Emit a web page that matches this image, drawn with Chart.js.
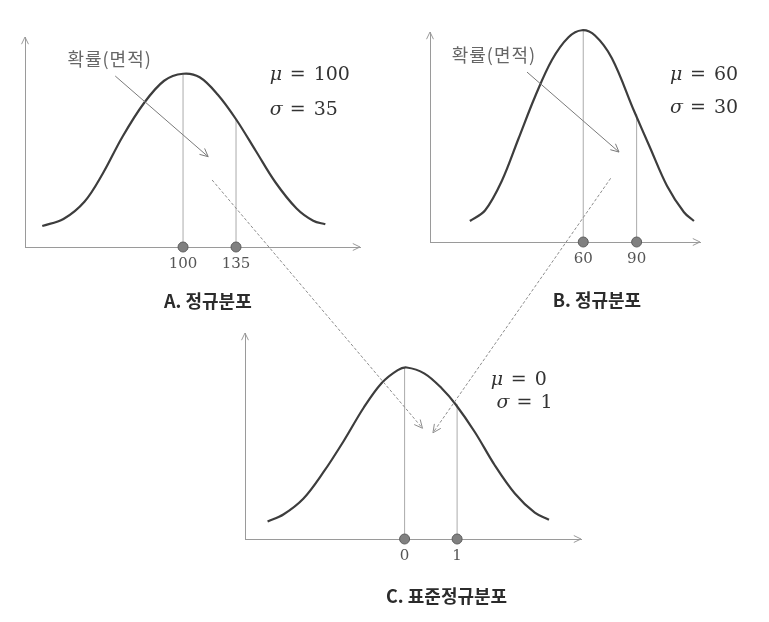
<!DOCTYPE html>
<html>
<head>
<meta charset="utf-8">
<script src="https://cdn.jsdelivr.net/npm/chart.js@4.4.0/dist/chart.umd.min.js"></script>
<style>
  html, body { margin: 0; background: #fff; }
  #wrap { position: relative; width: 769px; height: 622px; }
  #wrap canvas { position: absolute; left: 0; top: 0; }
</style>
</head>
<body>
<div id="wrap">
  <canvas id="chartA" width="769" height="622"></canvas>
  <canvas id="chartB" width="769" height="622"></canvas>
  <canvas id="chartC" width="769" height="622"></canvas>
</div>
<script>
// A. 정규분포 (mu 100, sigma 35) - curve
const aCurveX = [7, 21, 35, 47, 60, 74, 87.5, 100, 111, 123, 135, 148, 161, 175, 186, 194];
const aCurveY = [12, 16, 26, 42, 63, 82, 95, 99, 97, 87, 73, 55, 37, 22, 15, 13];
const aTicks = [100, 135];
const aTickH = [99, 73];

// B. 정규분포 (mu 60, sigma 30)
const bCurveX = [-3.7, 4.8, 14.3, 23.6, 32.9, 42.4, 51.7, 59.3, 66.6, 76.1, 88.5, 97.5, 107.1, 116.6, 122.2];
const bCurveY = [12, 18, 35, 59, 83, 104, 117, 121, 118, 105, 75, 54, 32, 17, 12];
const bTicks = [60, 90];
const bTickH = [121, 73];

// C. 표준정규분포 (mu 0, sigma 1)
const cCurveX = [-2.61, -2.31, -1.93, -1.55, -1.16, -0.78, -0.44, -0.13, 0.04, 0.38, 0.71, 0.97, 1.34, 1.72, 2.1, 2.48, 2.75];
const cCurveY = [10, 14, 23, 38, 56, 75, 89, 96.5, 98, 94.5, 86, 77, 61, 42, 26, 15, 11];
const cTicks = [0, 1];
const cTickH = [98, 77];

const W = 769, H = 622;
const AXIS = '#9a9a9a';
const LABEL_BAND = 30;

function chevron(ctx, x, y, ang, size) {
  ctx.beginPath();
  ctx.moveTo(x - size * Math.cos(ang - 0.45), y - size * Math.sin(ang - 0.45));
  ctx.lineTo(x, y);
  ctx.lineTo(x - size * Math.cos(ang + 0.45), y - size * Math.sin(ang + 0.45));
  ctx.stroke();
}

function arrow(ctx, x1, y1, x2, y2, dashed) {
  ctx.save();
  ctx.strokeStyle = dashed ? '#8c8c8c' : '#7a7a7a';
  ctx.lineWidth = 1;
  if (dashed) ctx.setLineDash([3, 2]);
  ctx.beginPath();
  ctx.moveTo(x1, y1);
  ctx.lineTo(x2, y2);
  ctx.stroke();
  ctx.setLineDash([]);
  chevron(ctx, x2, y2, Math.atan2(y2 - y1, x2 - x1), 9);
  ctx.restore();
}

const notesPlugin = {
  id: 'notes',
  afterDraw(chart, args, opts) {
    const ctx = chart.ctx;
    const sx = chart.scales.x, sy = chart.scales.y;
    const {left, top, right, bottom} = chart.chartArea;
    ctx.save();
    ctx.strokeStyle = AXIS;
    ctx.lineWidth = 1;
    chevron(ctx, right, bottom, 0, 8);
    chevron(ctx, left, top, -Math.PI / 2, 8);

    (opts.pointers || []).forEach(p => {
      arrow(ctx, sx.getPixelForValue(p.from[0]), sy.getPixelForValue(p.from[1]),
        sx.getPixelForValue(p.to[0]), sy.getPixelForValue(p.to[1]), false);
    });
    (opts.links || []).forEach(l => {
      const src = l.src();
      arrow(ctx, src.scales.x.getPixelForValue(l.from[0]), src.scales.y.getPixelForValue(l.from[1]),
        sx.getPixelForValue(l.to[0]), sy.getPixelForValue(l.to[1]), true);
    });

    ctx.textBaseline = 'middle';
    (opts.texts || []).forEach(t => {
      const x = sx.getPixelForValue(t.at[0]);
      const y = sy.getPixelForValue(t.at[1]);
      if (t.math) {
        // greek symbol in italic, then "=" and the value
        ctx.fillStyle = '#333';
        ctx.textAlign = 'left';
        ctx.font = 'italic 19px "DejaVu Serif"';
        ctx.fillText(t.math[0], x, y);
        ctx.font = '19px "DejaVu Serif"';
        ctx.fillText('=', x + 20, y);
        ctx.fillText(t.math[1], x + 44, y);
      } else {
        ctx.fillStyle = t.color || '#555';
        ctx.textAlign = 'center';
        ctx.font = t.font;
        ctx.letterSpacing = t.spacing || '0px';
        ctx.fillText(t.text, x, y);
        ctx.letterSpacing = '0px';
      }
    });
    ctx.restore();
  }
};

function buildChart(id, d) {
  const datasets = [
    {
      data: d.cx.map((x, i) => ({x, y: d.cy[i]})),
      showLine: true, borderColor: '#3d3d3d', borderWidth: 2.2,
      pointRadius: 0, tension: 0.35, clip: false, order: 1
    }
  ];
  d.ticks.forEach((t, i) => {
    datasets.push({
      data: [{x: t, y: 0}, {x: t, y: d.tickH[i]}],
      showLine: true, borderColor: '#ababab', borderWidth: 1,
      pointRadius: 0, clip: false, order: 2
    });
  });
  datasets.push({
    data: d.ticks.map(t => ({x: t, y: 0})),
    pointRadius: 5, backgroundColor: '#808080', borderColor: '#5e5e5e',
    borderWidth: 1, clip: false, order: 0
  });

  return new Chart(document.getElementById(id), {
    type: 'scatter',
    data: { datasets },
    options: {
      responsive: false,
      animation: false,
      events: [],
      layout: { padding: { left: d.area[0], top: d.area[1], right: W - d.area[2], bottom: H - d.area[3] - LABEL_BAND } },
      plugins: { legend: { display: false }, tooltip: { enabled: false }, notes: d.notes },
      scales: {
        x: {
          type: 'linear', min: d.xMin, max: d.xMax,
          grid: { display: false, drawTicks: false },
          border: { display: true, color: AXIS, width: 1 },
          ticks: { padding: 8, color: '#555', font: { family: 'DejaVu Serif', size: 15 }, autoSkip: false, maxRotation: 0 },
          afterBuildTicks: s => { s.ticks = d.ticks.map(v => ({value: v})); },
          afterFit: s => { s.height = LABEL_BAND; }
        },
        y: {
          type: 'linear', min: 0, max: d.yMax,
          grid: { display: false, drawTicks: false },
          border: { display: true, color: AXIS, width: 1 },
          ticks: { display: false },
          afterFit: s => { s.width = 0; }
        }
      }
    },
    plugins: [notesPlugin]
  });
}

const noteFont = '18px "Noto Sans CJK KR"';
const titleFont = 'bold 18px "Noto Sans CJK KR"';

const chartA = buildChart('chartA', {
  cx: aCurveX, cy: aCurveY, ticks: aTicks, tickH: aTickH,
  area: [25, 37, 360, 247], xMin: -4.4, xMax: 216.9, yMax: 120,
  notes: {
    texts: [
      { text: '확률(면적)', at: [51.5, 107.4], font: noteFont, color: '#666', spacing: '1px' },
      { math: ['μ', '100'], at: [157.2, 98.3] },
      { math: ['σ', '35'], at: [157.2, 78.3] },
      { text: 'A. 정규분포', at: [116.4, -30.9], font: titleFont, color: '#2b2b2b' }
    ],
    pointers: [{ from: [55.2, 97.7], to: [116.6, 51.6] }]
  }
});

const chartB = buildChart('chartB', {
  cx: bCurveX, cy: bCurveY, ticks: bTicks, tickH: bTickH,
  area: [430, 32, 700, 242], xMin: -26.1, xMax: 125.6, yMax: 120,
  notes: {
    texts: [
      { text: '확률(면적)', at: [9.8, 106.9], font: noteFont, color: '#666', spacing: '1px' },
      { math: ['μ', '60'], at: [108.7, 95.4] },
      { math: ['σ', '30'], at: [108.7, 76.6] },
      { text: 'B. 정규분포', at: [67.7, -33.1], font: titleFont, color: '#2b2b2b' }
    ],
    pointers: [{ from: [28.4, 97.1], to: [80.1, 51.4] }]
  }
});

const chartC = buildChart('chartC', {
  cx: cCurveX, cy: cCurveY, ticks: cTicks, tickH: cTickH,
  area: [245, 333, 581, 539], xMin: -3.04, xMax: 3.36, yMax: 117.7,
  notes: {
    texts: [
      { math: ['μ', '0'], at: [1.64, 90.9] },
      { math: ['σ', '1'], at: [1.75, 77.7] },
      { text: 'C. 표준정규분포', at: [0.8, -32.6], font: titleFont, color: '#2b2b2b' }
    ],
    links: [
      { src: () => chartA, from: [119.2, 38.3], to: [0.34, 63.3] },
      { src: () => chartB, from: [75.4, 36.4], to: [0.54, 60.7] }
    ]
  }
});
</script>
</body>
</html>
